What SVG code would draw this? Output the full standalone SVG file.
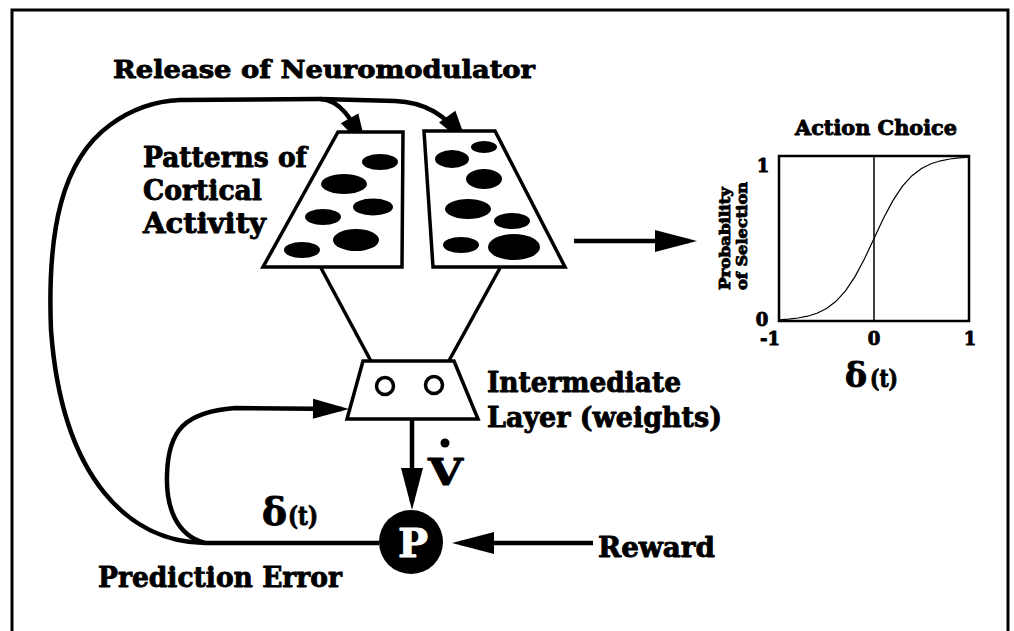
<svg xmlns="http://www.w3.org/2000/svg" width="1014" height="631" viewBox="0 0 1014 631">
<style>
.t{font-family:"DejaVu Serif","Liberation Serif",serif;font-weight:bold;fill:#000;stroke:#000;stroke-width:0.9;stroke-linejoin:round}
.ln{fill:none;stroke:#000;stroke-width:4.5;stroke-linecap:butt;stroke-linejoin:round}
.thin{fill:none;stroke:#000;stroke-width:3.5}
.trap{fill:#fff;stroke:#000;stroke-width:3.5;stroke-linejoin:miter}
.dot{fill:#000}
</style>
<defs>
<marker id="ah" markerUnits="userSpaceOnUse" markerWidth="42" markerHeight="22" refX="34" refY="11" orient="auto" overflow="visible"><path d="M0,0 L42,11 L0,22 z" fill="#000"/></marker>
<marker id="ahs" markerUnits="userSpaceOnUse" markerWidth="36" markerHeight="20" refX="29" refY="10" orient="auto" overflow="visible"><path d="M0,0 L36,10 L0,20 z" fill="#000"/></marker>
</defs>
<rect x="0" y="0" width="1014" height="631" fill="#fff"/>
<rect x="12" y="10" width="996" height="640" fill="none" stroke="#000" stroke-width="3"/>

<g id="connectors">
<path class="ln" d="M379,543 L205,543 C130,542 62,480 51,330 C47,230 62,160 110,125 C133,108 155,101 180,100 L320,99"/>
<path class="ln" d="M320,99 C345,100 356,130 363.7,143.8" marker-end="url(#ahs)"/>
<path class="ln" d="M320,99 L395,101 C425,102 446,115 464,140.3" marker-end="url(#ahs)"/>
<path class="ln" d="M205,543 C175,535 166,505 167,475 C168,430 185,412 235,408 L342,409" marker-end="url(#ahs)"/>
<path class="thin" d="M321,268 L380,378"/>
<path class="thin" d="M500,268 L440,377"/>
<path class="ln" d="M412,419 L412,502" marker-end="url(#ah)"/>
<path class="ln" d="M593,543 L460,543" marker-end="url(#ah)"/>
<path class="ln" d="M574,241 L689,241" marker-end="url(#ah)"/>
</g>

<g id="title">
<text class="t" x="113" y="78" font-size="25" textLength="422" lengthAdjust="spacingAndGlyphs">Release of Neuromodulator</text>
</g>

<g id="cortical-label">
<text class="t" x="143" y="167" font-size="27" textLength="164" lengthAdjust="spacingAndGlyphs">Patterns of</text>
<text class="t" x="143" y="200" font-size="27" textLength="119" lengthAdjust="spacingAndGlyphs">Cortical</text>
<text class="t" x="143" y="233" font-size="27" textLength="123" lengthAdjust="spacingAndGlyphs">Activity</text>
</g>

<g id="cortex-left">
<polygon class="trap" points="338,132 403,132 402,267 263,267"/>
<ellipse class="dot" cx="380" cy="162" rx="18" ry="8"/>
<ellipse class="dot" cx="344" cy="184" rx="23" ry="10"/>
<ellipse class="dot" cx="373" cy="207" rx="20" ry="8.5"/>
<ellipse class="dot" cx="323" cy="217" rx="18" ry="8"/>
<ellipse class="dot" cx="356" cy="240" rx="23" ry="11"/>
<ellipse class="dot" cx="302" cy="250" rx="18" ry="8"/>
</g>

<g id="cortex-right">
<polygon class="trap" points="424,131 495,131 565,267 433,267"/>
<ellipse class="dot" cx="484" cy="147" rx="13" ry="6"/>
<ellipse class="dot" cx="452" cy="159" rx="17" ry="9"/>
<ellipse class="dot" cx="484" cy="179" rx="18" ry="10"/>
<ellipse class="dot" cx="468" cy="209" rx="23" ry="10"/>
<ellipse class="dot" cx="512" cy="221" rx="18" ry="8"/>
<ellipse class="dot" cx="461" cy="245" rx="18" ry="8"/>
<ellipse class="dot" cx="514" cy="247" rx="26" ry="13"/>
</g>

<g id="intermediate">
<polygon class="trap" points="363,361 454,361 478,419 347,419"/>
<circle cx="385" cy="386" r="8.5" fill="#fff" stroke="#000" stroke-width="3.5"/>
<circle cx="434" cy="385" r="8.5" fill="#fff" stroke="#000" stroke-width="3.5"/>
<text class="t" x="487" y="392" font-size="28" textLength="194" lengthAdjust="spacingAndGlyphs">Intermediate</text>
<text class="t" x="487" y="427" font-size="28" textLength="235" lengthAdjust="spacingAndGlyphs">Layer (weights)</text>
</g>

<g id="vdot">
<text class="t" x="428" y="485" font-size="38" textLength="35" lengthAdjust="spacingAndGlyphs">V</text>
<circle cx="445" cy="443" r="4.5" fill="#000"/>
</g>

<g id="p-node">
<circle cx="411" cy="542" r="32" fill="#000"/>
<text class="t" x="413" y="557" font-size="40" text-anchor="middle" style="fill:#fff;stroke:#fff">P</text>
</g>

<g id="reward">
<text class="t" x="598" y="557" font-size="28" textLength="117" lengthAdjust="spacingAndGlyphs">Reward</text>
</g>

<g id="prediction-error">
<text class="t" x="262" y="525" font-size="38" textLength="25" lengthAdjust="spacingAndGlyphs">δ</text>
<text class="t" x="288" y="525" font-size="26" textLength="30" lengthAdjust="spacingAndGlyphs">(t)</text>
<text class="t" x="98" y="587" font-size="28" textLength="244" lengthAdjust="spacingAndGlyphs">Prediction Error</text>
</g>

<g id="action-choice">
<text class="t" x="795" y="135" font-size="20" textLength="162" lengthAdjust="spacingAndGlyphs">Action Choice</text>
<rect x="779" y="156" width="190" height="165" fill="none" stroke="#000" stroke-width="2.5"/>
<line x1="874" y1="156" x2="874" y2="321" stroke="#000" stroke-width="1.5"/>
<polyline fill="none" stroke="#000" stroke-width="1.2" points="779,319.9 788.5,319.2 798,318 807.5,316.2 817,313.2 826.5,308.5 836,301.3 845.5,290.9 855,276.6 864.5,258.7 874,238.5 883.5,218.3 893,200.4 902.5,186.1 912,175.7 921.5,168.5 931,163.8 940.5,160.8 950,159 959.5,157.8 969,157.1"/>
<text class="t" x="763" y="172" font-size="18" text-anchor="middle">1</text>
<text class="t" x="762" y="326" font-size="18" text-anchor="middle">0</text>
<text class="t" x="770" y="345" font-size="18" text-anchor="middle">-1</text>
<text class="t" x="874" y="345" font-size="18" text-anchor="middle">0</text>
<text class="t" x="970" y="345" font-size="18" text-anchor="middle">1</text>
<text class="t" transform="translate(730,290) rotate(-90)" font-size="15" textLength="103" lengthAdjust="spacingAndGlyphs">Probability</text>
<text class="t" transform="translate(747,290) rotate(-90)" font-size="15" textLength="108" lengthAdjust="spacingAndGlyphs">of Selection</text>
<text class="t" x="845" y="387" font-size="33" textLength="22" lengthAdjust="spacingAndGlyphs">δ</text>
<text class="t" x="870" y="387" font-size="25" textLength="28" lengthAdjust="spacingAndGlyphs">(t)</text>
</g>
</svg>
